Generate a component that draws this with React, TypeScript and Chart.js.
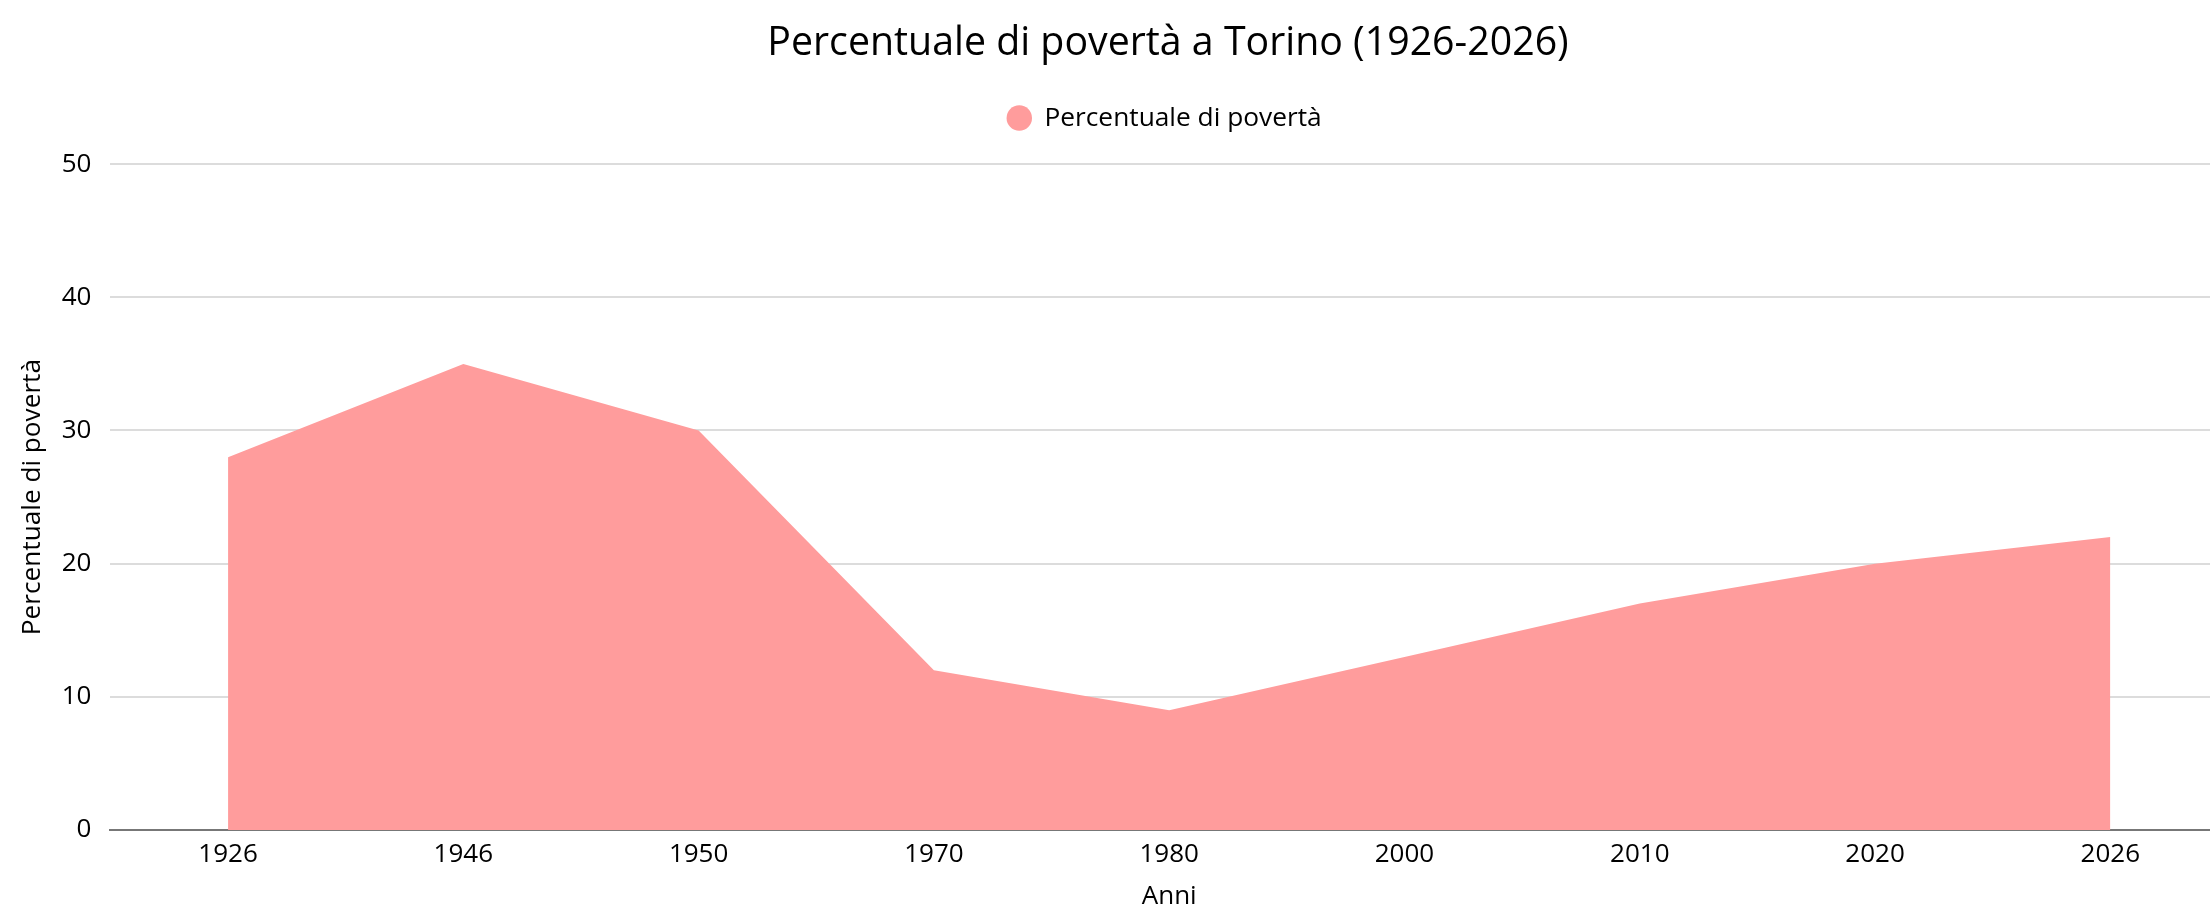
import React, { useEffect, useRef } from "react";
import { Chart, registerables } from "chart.js";

Chart.register(...registerables);

const TITLE = "Percentuale di povertà a Torino (1926-2026)";
const SERIES_LABEL = "Percentuale di povertà";
const X_TITLE = "Anni";
const Y_TITLE = "Percentuale di povertà";
const years: string[] = ["1926", "1946", "1950", "1970", "1980", "2000", "2010", "2020", "2026"];
const poverty: number[] = [28, 35, 30, 12, 9, 13, 17, 20, 22];
const yTicks = { min: 0, max: 50, step: 10 };

const FONT = "'Open Sans', 'DejaVu Sans', sans-serif";
const FILL = "rgb(255, 156, 156)";

const legendSpacer = {
  id: "legendSpacer",
  beforeInit(chart: any) {
    const orig = chart.legend.fit;
    chart.legend.fit = function fit() {
      orig.bind(chart.legend)();
      this.height += 23;
    };
  },
  afterLayout(chart: any) {
    if (chart.legend) {
      chart.legend.left -= 3.5;
      chart.legend.right -= 3.5;
    }
  },
};

export default function App() {
  const ref = useRef<HTMLCanvasElement | null>(null);
  useEffect(() => {
    if (!ref.current) return;
    const chart = new Chart(ref.current, {
      type: "line",
      data: {
        labels: years,
        datasets: [
          {
            label: SERIES_LABEL,
            data: poverty,
            backgroundColor: FILL,
            borderColor: FILL,
            borderWidth: 0,
            fill: "origin",
            tension: 0,
            pointRadius: 0,
            pointHoverRadius: 0,
            pointStyle: "circle",
          },
        ],
      },
      plugins: [legendSpacer],
      options: {
        responsive: false,
        animation: false,
        devicePixelRatio: 1,
        layout: { padding: 0 },
        plugins: {
          title: {
            display: true,
            text: TITLE,
            color: "#000",
            font: { family: FONT, size: 39.3, weight: "normal" },
            padding: { top: 20.5, bottom: 27.2 },
          },
          legend: {
            display: true,
            position: "top",
            labels: {
              usePointStyle: true,
              pointStyle: "circle",
              boxWidth: 24,
              boxHeight: 18,
              padding: 10,
              color: "#000",
              font: { family: FONT, size: 26.3 },
            },
          },
          tooltip: { enabled: false },
        },
        scales: {
          x: {
            offset: true,
            grid: { display: false, drawTicks: false },
            border: { display: true, color: "#777", width: 2 },
            ticks: { color: "#000", font: { family: FONT, size: 26 }, padding: 8.5, maxRotation: 0 },
            title: {
              display: true,
              text: X_TITLE,
              color: "#000",
              font: { family: FONT, size: 26 },
              padding: { top: 0, bottom: 3 },
            },
            afterFit(scale: any) {
              scale.height = 915 - 830;
            },
          },
          y: {
            min: yTicks.min,
            max: yTicks.max,
            grid: { color: "#dcdcdc", lineWidth: 2, drawTicks: false },
            border: { display: false },
            ticks: { stepSize: yTicks.step, color: "#000", font: { family: FONT, size: 26 }, padding: 19 },
            title: {
              display: true,
              text: Y_TITLE,
              color: "#000",
              font: { family: FONT, size: 26.2 },
              padding: { top: 17, bottom: 0 },
            },
            afterFit(scale: any) {
              scale.width = 110.4;
            },
          },
          yR: {
            position: "right",
            display: true,
            grid: { display: false, drawTicks: false },
            border: { display: false },
            ticks: { display: false },
            afterFit(scale: any) {
              scale.width = 108;
            },
          },
        },
      },
    });
    return () => chart.destroy();
  }, []);
  return (
    <div style={{ position: "fixed", left: 0, top: 0, width: 2336, height: 915, background: "#fff" }}>
      <canvas ref={ref} width={2336} height={915} style={{ width: 2336, height: 915, display: "block" }} />
    </div>
  );
}
